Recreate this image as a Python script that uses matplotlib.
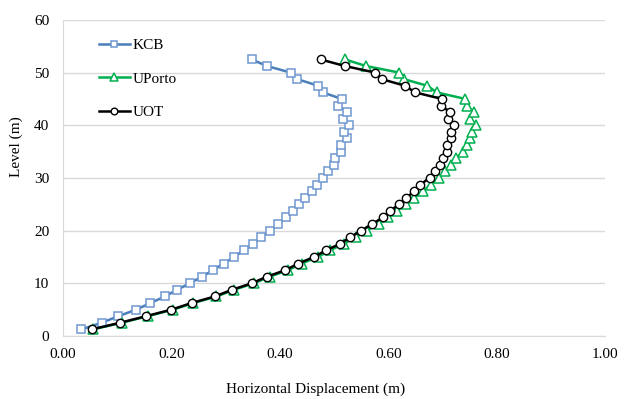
import numpy as np
import matplotlib
matplotlib.use("Agg")
import matplotlib.pyplot as plt

plt.rcParams["font.family"] = ["Liberation Serif", "DejaVu Serif"]

# storey levels (m), 1.25 m apart
levels = [1.25 * k for k in range(1, 43)]

kcb = [0.034, 0.071, 0.102, 0.135, 0.161, 0.188, 0.210, 0.234, 0.256, 0.277,
       0.296, 0.316, 0.333, 0.351, 0.365, 0.382, 0.397, 0.411, 0.424, 0.436,
       0.447, 0.459, 0.469, 0.480, 0.488, 0.499, 0.502, 0.512, 0.512, 0.523,
       0.518, 0.528, 0.517, 0.523, 0.508, 0.514, 0.479, 0.471, 0.432, 0.420,
       0.376, 0.348]

uporto = [0.055, 0.108, 0.156, 0.203, 0.240, 0.283, 0.315, 0.352, 0.381, 0.415,
          0.440, 0.470, 0.492, 0.518, 0.540, 0.560, 0.582, 0.600, 0.615, 0.632,
          0.648, 0.664, 0.678, 0.693, 0.705, 0.715, 0.725, 0.738, 0.745, 0.750,
          0.755, 0.762, 0.750, 0.757, 0.745, 0.742, 0.689, 0.672, 0.629, 0.620,
          0.559, 0.520]

uot = [0.053, 0.105, 0.153, 0.200, 0.237, 0.280, 0.311, 0.348, 0.376, 0.410,
       0.434, 0.463, 0.485, 0.511, 0.530, 0.550, 0.570, 0.590, 0.603, 0.620,
       0.633, 0.648, 0.659, 0.676, 0.686, 0.696, 0.700, 0.708, 0.708, 0.716,
       0.716, 0.721, 0.710, 0.714, 0.697, 0.699, 0.649, 0.631, 0.588, 0.576,
       0.520, 0.475]

fig = plt.figure(figsize=(6.24, 3.99), dpi=100)
ax = fig.add_axes([0.101, 0.158, 0.869, 0.792])

ax.plot(kcb, levels, color="#4a7ebb", lw=1.8, marker="s", ms=6,
        mfc="white", mec="#6f97cf", mew=1.1, label="KCB")
ax.plot(uporto, levels, color="#00b050", lw=1.8, marker="^", ms=6.5,
        mfc="white", mec="#00b050", mew=1.1, label="UPorto")
ax.plot(uot, levels, color="black", lw=1.8, marker="o", ms=6,
        mfc="white", mec="black", mew=1.0, label="UOT")

ax.set_xlim(0, 1)
ax.set_ylim(0, 60)
ax.set_xticks(np.arange(0, 1.01, 0.2))
ax.set_xticklabels([f"{v:.2f}" for v in np.arange(0, 1.01, 0.2)])
ax.set_yticks(range(0, 61, 10))
ax.tick_params(length=0, labelsize=11)
ax.tick_params(axis="x", pad=9)
ax.tick_params(axis="y", pad=10)
ax.grid(axis="y", color="#d9d9d9", lw=1)
ax.set_axisbelow(True)
for side in ["top", "right"]:
    ax.spines[side].set_visible(False)
for side in ["left", "bottom"]:
    ax.spines[side].set_color("#d9d9d9")

ax.set_xlabel("Horizontal Displacement (m)", fontsize=11)
ax.set_ylabel("Level (m)", fontsize=11)
ax.xaxis.set_label_coords(0.465, -0.148)
ax.yaxis.set_label_coords(-0.073, 0.598)

ax.legend(loc="upper left", bbox_to_anchor=(0.041, 0.985), frameon=False,
          fontsize=11, handlelength=2.0, labelspacing=1.3, handletextpad=0.2,
          markerscale=0.8)

fig.savefig("out.png", dpi=100)
